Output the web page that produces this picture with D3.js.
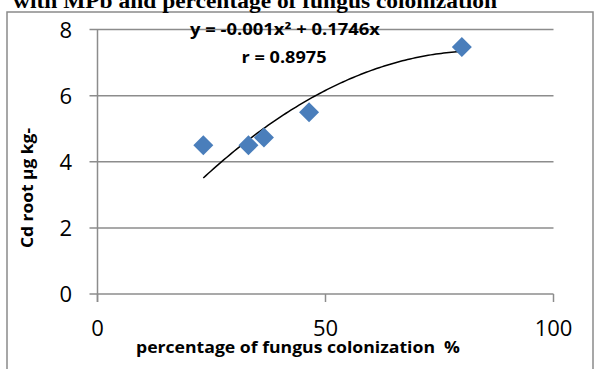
<!DOCTYPE html>
<html>
<head>
<meta charset="utf-8">
<script src="https://cdn.jsdelivr.net/npm/d3@7"></script>
<style>
  html, body { margin: 0; padding: 0; background: #fff; }
  svg { display: block; }
</style>
</head>
<body>
<script>
// ---- data ----
const colonization = [23.2, 33.1, 36.5, 46.4, 79.9];      // x: % fungus colonization
const cdRoot       = [4.5, 4.5, 4.73, 5.5, 7.47];          // y: Cd root µg kg-
const xTicks = [0, 50, 100];
const yTicks = [0, 2, 4, 6, 8];
const titleText = "with MPb and percentage of fungus colonization";
const xTitle = "percentage of fungus colonization  %";
const yTitle = "Cd root µg kg-";
const eqText = "y = -0.001x² + 0.1746x";
const rText = "r = 0.8975";

// ---- layout ----
const W = 595, H = 369;
const svg = d3.select("body").append("svg").attr("width", W).attr("height", H);

const x = d3.scaleLinear().domain([0, 100]).range([97.5, 553.5]);
const y = d3.scaleLinear().domain([0, 8]).range([294, 29.5]);

const gridColor = "#8c8c8c";
const blue = "#4a7ebb";

// chart border
svg.append("rect").attr("x", 7).attr("y", 12).attr("width", 586).attr("height", 370)
  .attr("fill", "none").attr("stroke", "#8a8a8a").attr("stroke-width", 1.5);

// title (clipped at top, as in the reference)
svg.append("text").attr("x", 13).attr("y", 8)
  .attr("font-family", "Liberation Serif").attr("font-weight", "bold").attr("font-size", 20)
  .attr("textLength", 484).attr("lengthAdjust", "spacingAndGlyphs")
  .text(titleText);

// horizontal gridlines (with tick extension to the left)
svg.append("g").selectAll("line").data(yTicks).join("line")
  .attr("x1", x(0) - 8).attr("x2", x(100))
  .attr("y1", d => y(d)).attr("y2", d => y(d))
  .attr("stroke", gridColor).attr("stroke-width", 1.5);

// y axis line
svg.append("line").attr("x1", x(0)).attr("x2", x(0)).attr("y1", y(8)).attr("y2", y(0) + 8)
  .attr("stroke", gridColor).attr("stroke-width", 1.5);

// x tick marks
svg.append("g").selectAll("line").data(xTicks).join("line")
  .attr("x1", d => x(d)).attr("x2", d => x(d)).attr("y1", y(0)).attr("y2", y(0) + 8)
  .attr("stroke", gridColor).attr("stroke-width", 1.5);

// y tick labels
svg.append("g").selectAll("text").data(yTicks).join("text")
  .attr("x", 72).attr("y", d => y(d) + 8)
  .attr("text-anchor", "end")
  .attr("font-family", "Open Sans").attr("font-size", 22).attr("fill", "#000")
  .text(d => d);

// x tick labels
svg.append("g").selectAll("text").data(xTicks).join("text")
  .attr("x", d => x(d)).attr("y", 336)
  .attr("text-anchor", "middle")
  .attr("font-family", "Open Sans").attr("font-size", 22).attr("fill", "#000")
  .text(d => d);

// axis titles
svg.append("text").attr("x", 136).attr("y", 353)
  .style("white-space", "pre")
  .attr("font-family", "Open Sans").attr("font-weight", "bold").attr("font-size", 16)
  .attr("textLength", 324).attr("lengthAdjust", "spacingAndGlyphs")
  .text(xTitle);

svg.append("text").attr("transform", "translate(33,188) rotate(-90)")
  .attr("text-anchor", "middle")
  .attr("font-family", "Open Sans").attr("font-weight", "bold").attr("font-size", 16.5)
  .attr("textLength", 120).attr("lengthAdjust", "spacingAndGlyphs")
  .text(yTitle);

// ---- polynomial trendline (least squares, order 2, through origin) ----
let s4 = 0, s3 = 0, s2 = 0, s2y = 0, s1y = 0;
colonization.forEach((xi, i) => {
  const yi = cdRoot[i];
  s4 += xi ** 4; s3 += xi ** 3; s2 += xi ** 2; s2y += xi * xi * yi; s1y += xi * yi;
});
const det = s4 * s2 - s3 * s3;
const a = (s2y * s2 - s3 * s1y) / det;
const b = (s4 * s1y - s3 * s2y) / det;
const xmin = d3.min(colonization), xmax = d3.max(colonization);
const curvePts = d3.range(0, 101).map(k => {
  const xv = xmin + (xmax - xmin) * k / 100;
  return [xv, a * xv * xv + b * xv];
});
svg.append("path").datum(curvePts)
  .attr("d", d3.line().x(d => x(d[0])).y(d => y(d[1])))
  .attr("fill", "none").attr("stroke", "#000").attr("stroke-width", 1.5);

// markers (diamonds)
const diamond = d3.symbol().type(d3.symbolSquare).size(200);
svg.append("g").selectAll("path").data(colonization.map((v, i) => [v, cdRoot[i]])).join("path")
  .attr("d", diamond)
  .attr("transform", d => `translate(${x(d[0])},${y(d[1])}) rotate(45)`)
  .attr("fill", blue);

// equation labels
svg.append("text").attr("x", 285).attr("y", 35).attr("text-anchor", "middle")
  .attr("font-family", "Open Sans").attr("font-weight", "bold").attr("font-size", 15.5)
  .attr("textLength", 190).attr("lengthAdjust", "spacingAndGlyphs")
  .text(eqText);
svg.append("text").attr("x", 284).attr("y", 63).attr("text-anchor", "middle")
  .attr("font-family", "Open Sans").attr("font-weight", "bold").attr("font-size", 15.5)
  .attr("textLength", 85).attr("lengthAdjust", "spacingAndGlyphs")
  .text(rText);
</script>
</body>
</html>
